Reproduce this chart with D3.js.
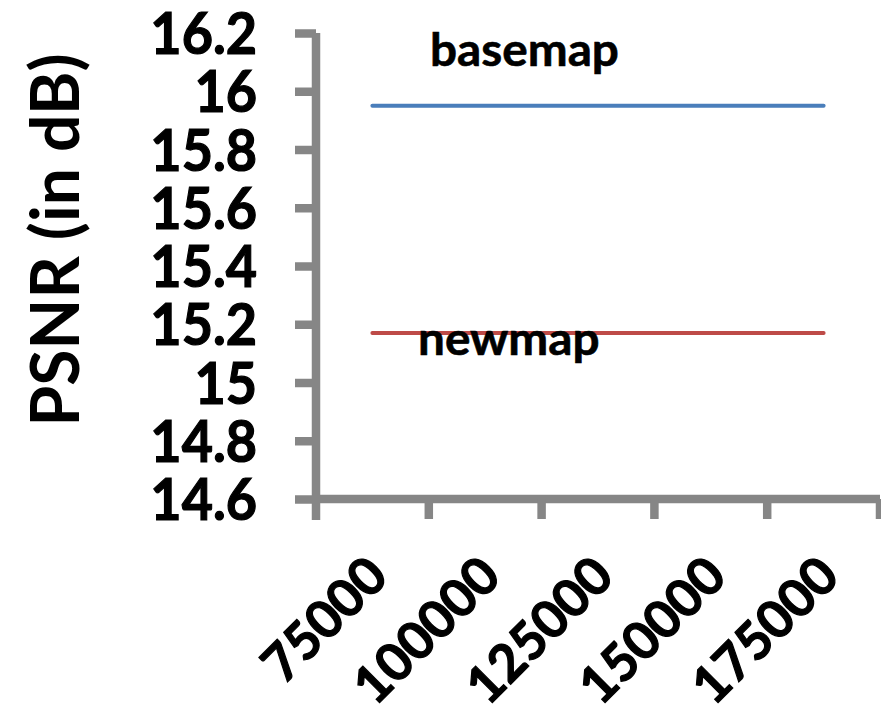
<!DOCTYPE html>
<html>
<head>
<meta charset="utf-8">
<script src="https://cdn.jsdelivr.net/npm/d3@7"></script>
<style>
  html, body { margin: 0; padding: 0; background: #fff; }
  svg { display: block; }
  text { font-family: Lato, "Open Sans", sans-serif; font-weight: 700; }
</style>
</head>
<body>
<div id="chart"></div>
<script>
// Map sizes on the x axis and the PSNR reached by each map
const categories = ["75000", "100000", "125000", "150000", "175000"];
const basemap = [15.95, 15.95, 15.95, 15.95, 15.95];
const newmap = [15.17, 15.17, 15.17, 15.17, 15.17];
const yTicks = [14.6, 14.8, 15, 15.2, 15.4, 15.6, 15.8, 16, 16.2];
const seriesNames = ["basemap", "newmap"];
const yTitle = "PSNR (in dB)";

const W = 881, H = 720;
const plot = { left: 316, right: 880, top: 33, bottom: 499 };
const axisColor = "#868686";
const tickSqueeze = 0.93;

const svg = d3.select("#chart").append("svg")
  .attr("width", W).attr("height", H);

const x = d3.scaleBand().domain(categories)
  .range([plot.left, plot.right]).padding(0);
const xc = c => x(c) + x.bandwidth() / 2;
const y = d3.scaleLinear().domain([14.6, 16.2]).range([plot.bottom, plot.top]);

// Y axis: line, outward ticks and heavy labels
const yAxis = svg.append("g").attr("transform", `translate(${plot.left},0)`)
  .call(d3.axisLeft(y).tickValues(yTicks).tickSize(21).tickSizeOuter(0)
    .tickFormat(d => d3.format("")(+d.toFixed(1))));
yAxis.select(".domain").remove();
yAxis.selectAll(".tick line")
  .attr("stroke", axisColor).attr("stroke-width", 8.5);
yAxis.selectAll(".tick text")
  .attr("transform", `scale(${tickSqueeze},1)`)
  .attr("x", -59 / tickSqueeze).attr("dy", null).attr("y", 20.5)
  .attr("text-anchor", "end")
  .style("font-size", "58px").attr("fill", "#000")
  .attr("stroke", "#000").attr("stroke-width", 1.2);
svg.append("line")
  .attr("x1", plot.left).attr("x2", plot.left)
  .attr("y1", plot.top).attr("y2", plot.bottom + 21)
  .attr("stroke", axisColor).attr("stroke-width", 8.5);

// X axis: category bands with ticks on the band edges
const xAxis = svg.append("g").attr("transform", `translate(0,${plot.bottom})`);
xAxis.append("line")
  .attr("x1", plot.left).attr("x2", plot.right)
  .attr("stroke", axisColor).attr("stroke-width", 8.5);
const edges = categories.map(c => x(c)).concat([x(categories[categories.length - 1]) + x.bandwidth()]);
xAxis.selectAll("line.tick").data(edges.slice(1)).join("line")
  .attr("class", "tick")
  .attr("x1", d => d).attr("x2", d => d)
  .attr("y1", 0).attr("y2", 20)
  .attr("stroke", axisColor).attr("stroke-width", 8.5);
xAxis.selectAll("text").data(categories).join("text")
  .attr("transform", d => `translate(${xc(d) + 18},80) rotate(-45)`)
  .attr("text-anchor", "end")
  .style("font-size", "52px").attr("fill", "#000")
  .attr("stroke", "#000").attr("stroke-width", 1.2)
  .text(d => d);

// Series lines
const line = d3.line().x((d, i) => xc(categories[i])).y(d => y(d));
const series = [
  { name: seriesNames[0], values: basemap, color: "#4a7ebb", dx: 430, dy: -40 },
  { name: seriesNames[1], values: newmap, color: "#be4b48", dx: 418, dy: 22 }
];
svg.selectAll("path.series").data(series).join("path")
  .attr("class", "series")
  .attr("d", d => line(d.values))
  .attr("fill", "none").attr("stroke", d => d.color)
  .attr("stroke-width", 4).attr("stroke-linecap", "round");

// Series name labels
svg.selectAll("text.series-label").data(series).join("text")
  .attr("class", "series-label")
  .attr("transform", d => `translate(${d.dx},${y(d.values[0]) + d.dy}) scale(1.06,1)`)
  .style("font-size", "45px").attr("fill", "#000")
  .attr("stroke", "#000").attr("stroke-width", 0.6)
  .text(d => d.name);

// Y axis title
svg.append("text")
  .attr("transform", "translate(79,240) rotate(-90)")
  .attr("text-anchor", "middle")
  .style("font-size", "66px").attr("fill", "#000")
  .text(yTitle);
</script>
</body>
</html>
